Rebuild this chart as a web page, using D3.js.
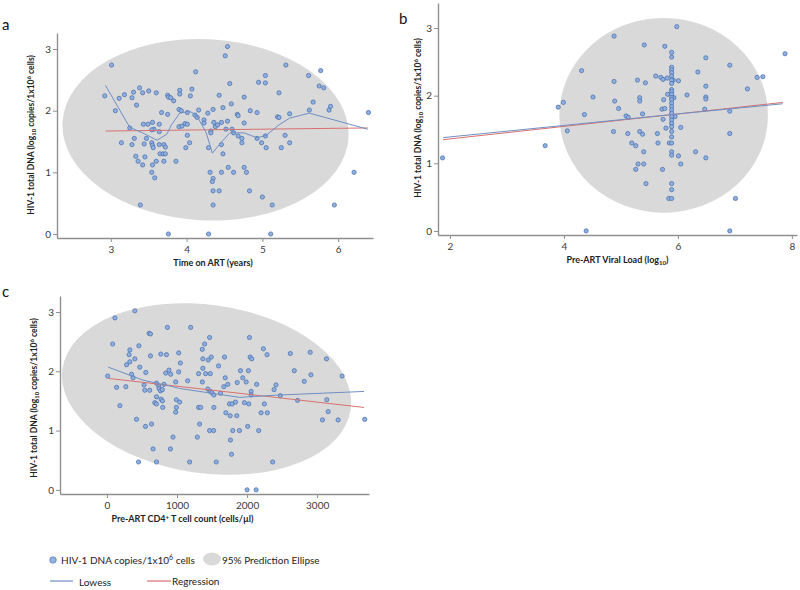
<!DOCTYPE html>
<html>
<head>
<meta charset="utf-8">
<script src="https://cdn.jsdelivr.net/npm/d3@7"></script>
<style>
  body { margin: 0; background: #fff; }
  svg { display: block; font-family: Lato, "Liberation Sans", sans-serif; }
</style>
</head>
<body>
<svg id="chart" width="800" height="590"></svg>
<script>
// ---- data ----

// panel a: time on ART (years) vs HIV-1 total DNA
var timePoints = [
  [3.01,2.74],[2.92,2.24],[3.06,2.00],[3.11,2.20],[3.18,2.26],[3.28,2.21],[3.30,2.30],[3.34,2.09],
  [3.38,2.37],[3.42,2.29],[3.50,2.32],[3.60,2.29],[3.75,2.25],[3.76,2.22],[3.79,2.21],[3.83,2.16],
  [3.91,2.33],[3.91,2.27],[4.07,2.35],[4.05,2.24],[4.12,2.63],[3.90,2.02],[3.93,2.00],[4.01,1.97],
  [4.11,1.93],[4.16,2.01],[3.67,1.97],[3.75,1.94],[3.55,1.81],[3.43,1.78],[3.49,1.78],[3.25,1.72],
  [3.57,1.70],[3.54,1.69],[3.64,1.78],[3.90,1.74],[3.94,1.75],[3.98,1.79],[4.01,1.78],[4.01,1.60],
  [3.31,1.55],[3.47,1.55],[3.14,1.48],[3.28,1.45],[3.44,1.46],[3.54,1.48],[3.55,1.44],[3.56,1.40],
  [3.64,1.45],[3.70,1.45],[3.72,1.41],[3.33,1.26],[3.36,1.18],[3.42,1.12],[3.45,1.25],[3.60,1.18],
  [3.65,1.30],[3.69,1.30],[3.72,1.30],[3.70,1.18],[3.86,1.18],[3.55,1.12],[3.54,1.00],[3.58,0.91],
  [3.99,1.40],[4.04,1.48],[3.39,0.47],[3.76,0.00],[3.64,1.66],
  [4.54,3.04],[4.51,2.89],[5.31,2.74],[5.77,2.65],[5.04,2.57],[4.95,2.46],[5.04,2.45],[5.61,2.57],
  [5.75,2.40],[5.81,2.37],[4.57,2.44],[5.22,2.29],[4.43,2.25],[4.76,2.22],[5.67,2.14],[5.90,2.07],
  [5.88,2.01],[5.62,2.01],[6.40,1.97],[4.59,2.11],[4.48,2.05],[4.35,2.02],[4.84,2.00],[4.93,1.97],
  [5.36,1.95],[5.20,1.90],[5.22,1.89],[4.14,1.89],[4.28,1.96],[4.67,1.94],[4.68,1.92],[4.23,1.85],
  [4.23,1.80],[4.36,1.81],[4.46,1.81],[4.54,1.83],[4.76,1.80],[4.38,1.74],[4.41,1.77],[4.52,1.70],
  [4.60,1.70],[4.32,1.67],[4.32,1.64],[4.62,1.64],[4.68,1.59],[4.73,1.55],[4.93,1.55],[5.04,1.59],
  [5.30,1.60],[4.29,1.40],[4.46,1.45],[4.48,1.30],[4.73,1.48],[4.99,1.48],[5.05,1.40],[5.25,1.40],
  [5.36,1.48],[4.31,1.00],[4.46,1.00],[4.55,1.08],[4.62,1.00],[4.76,1.08],[4.79,1.00],[4.35,0.90],
  [4.34,0.85],[4.35,0.70],[4.43,0.70],[4.83,0.70],[5.00,0.60],[4.35,0.47],[5.13,0.47],[5.95,0.47],
  [6.21,1.00],[4.29,0.00],[5.11,0.00]
];
var timeLowess = [
  [2.93,2.41],[3.25,1.73],[3.42,1.64],[3.61,1.52],[3.74,1.62],[3.80,1.77],[3.91,1.96],[4.04,1.99],
  [4.13,1.93],[4.26,1.64],[4.34,1.31],[4.46,1.49],[4.57,1.64],[4.76,1.64],[4.93,1.56],[5.05,1.60],
  [5.22,1.77],[5.36,1.88],[5.62,1.96],[6.39,1.70]
];
var timeRegression = [[2.93,1.67],[6.39,1.72]];
var timeEllipse = { cx: 4.25, cy: 1.69, rx: 1.89, ry: 1.47, angle: 3 };

// panel b: pre-ART viral load (log10) vs HIV-1 total DNA
var vlPoints = [
  [4.31,2.37],[4.51,1.98],[3.90,1.83],[3.99,1.90],[4.36,1.72],[4.06,1.48],[1.87,1.08],[3.67,1.26],
  [4.39,0.00],[4.88,2.88],[5.98,3.02],[5.41,2.75],[5.77,2.73],[6.49,2.56],[6.91,2.45],[7.88,2.62],
  [6.35,2.35],[7.39,2.27],[7.49,2.28],[7.22,2.10],[6.49,2.14],[4.88,2.21],[5.29,2.23],[5.43,2.19],
  [5.61,2.29],[5.70,2.27],[5.74,2.24],[5.81,2.26],[5.92,2.23],[6.01,2.22],[4.89,1.92],[4.96,1.81],
  [5.33,1.97],[5.33,1.92],[5.75,1.94],[5.82,2.02],[5.93,1.97],[6.16,2.01],[6.49,1.98],[6.49,1.95],
  [6.47,1.80],[6.91,1.77],[5.72,1.80],[5.77,1.81],[5.38,1.73],[5.09,1.70],[5.13,1.68],[5.95,1.69],
  [5.74,1.65],[5.79,1.52],[6.05,1.53],[4.87,1.47],[5.12,1.44],[5.33,1.47],[5.38,1.43],[5.64,1.44],
  [6.91,1.44],[5.19,1.30],[5.26,1.26],[5.65,1.30],[5.85,1.30],[5.40,1.17],[6.01,1.11],[6.31,1.17],
  [6.49,1.08],[5.30,0.99],[5.40,0.99],[6.05,0.99],[5.26,0.91],[5.73,0.91],[5.44,0.70],[5.84,0.48],
  [7.01,0.48],[6.91,0.00],
  // the column of patients at the assay upper value
  [5.89,2.64],[5.89,2.57],[5.89,2.42],[5.89,2.38],[5.89,2.34],[5.89,2.29],[5.89,2.23],[5.89,2.18],
  [5.89,2.09],[5.89,2.06],[5.89,2.02],[5.89,1.97],[5.89,1.94],[5.89,1.89],[5.89,1.84],[5.89,1.79],
  [5.89,1.74],[5.89,1.69],[5.89,1.64],[5.89,1.59],[5.89,1.54],[5.89,1.47],[5.89,1.39],[5.89,1.30],
  [5.89,1.17],[5.89,1.12],[5.89,0.70],[5.89,0.61],[5.89,0.48]
];
var vlLowess = [[1.88,1.38],[4.0,1.56],[6.0,1.73],[7.84,1.88]];
var vlRegression = [[1.88,1.35],[7.84,1.90]];
var vlEllipse = { cx: 5.75, cy: 1.71, rx: 1.83, ry: 1.44, angle: 0 };

// panel c: pre-ART CD4+ T cell count vs HIV-1 total DNA
var cd4Points = [
  [114,2.90],[398,3.02],[81,2.46],[602,2.64],[621,2.63],[863,2.74],[1195,2.74],[455,2.43],
  [327,2.36],[317,2.28],[398,2.21],[327,2.16],[280,2.11],[621,2.26],[768,2.29],[849,2.28],
  [1024,2.31],[1048,2.14],[469,2.07],[555,1.98],[839,1.97],[886,2.02],[910,1.95],[1024,1.99],
  [1308,1.96],[10,1.92],[351,1.95],[374,1.89],[1152,1.84],[138,1.73],[270,1.74],[530,1.77],
  [707,1.80],[739,1.75],[815,1.78],[981,1.82],[540,1.68],[611,1.68],[744,1.71],[764,1.67],
  [792,1.69],[707,1.57],[772,1.53],[792,1.50],[683,1.47],[707,1.45],[991,1.52],[1038,1.48],
  [796,1.39],[991,1.39],[981,1.31],[185,1.42],[422,1.19],[1308,1.39],
  [1465,2.57],[1394,2.46],[1361,2.37],[1369,2.21],[1446,2.19],[1489,2.24],[1369,2.05],[1408,1.96],
  [1475,1.96],[1361,1.82],[1593,2.09],[1678,2.24],[1688,1.89],[1668,1.74],[1725,1.78],[1906,2.01],
  [1938,1.89],[2019,2.01],[1987,1.82],[1859,1.81],[2034,2.57],[2043,2.24],[2066,2.21],[2233,2.38],
  [2285,2.28],[2137,1.78],[2058,1.66],[2058,1.60],[2413,1.77],[2385,1.69],[2474,1.59],[2617,2.30],
  [2901,2.32],[2674,2.01],[2816,1.83],[2911,1.94],[3133,2.21],[3356,1.92],[1440,1.70],[1475,1.66],
  [1497,1.64],[1526,1.60],[1621,1.63],[1337,1.39],[1526,1.39],[1749,1.45],[1787,1.45],[1834,1.48],
  [1962,1.47],[2024,1.45],[2247,1.45],[1697,1.30],[1759,1.25],[1853,1.25],[2200,1.30],[2289,1.30],
  [2720,1.51],[3138,1.52],[3157,1.32],[3076,1.18],[3299,1.18],[3679,1.19],
  [550,1.07],[636,1.11],[1322,1.11],[2009,1.07],[1465,1.00],[1522,1.00],[1796,1.00],[1891,1.00],
  [2166,1.00],[943,0.89],[1290,0.89],[1763,0.84],[658,0.69],[906,0.69],[1778,0.60],[451,0.47],
  [707,0.47],[1180,0.47],[1560,0.47],[2365,0.47],[2000,0.00],[2129,0.00]
];
var cd4Lowess = [[18,2.07],[516,1.85],[940,1.74],[1038,1.71],[1891,1.56],[2460,1.60],[3670,1.66]];
var cd4Regression = [[18,1.88],[3670,1.39]];
var cd4Ellipse = { cx: 1422, cy: 1.70, rx: 2077, ry: 1.42, angle: 8 };

var timeTicks = [3, 4, 5, 6];
var vlTicks = [2, 4, 6, 8];
var cd4Ticks = [0, 1000, 2000, 3000];
var dnaTicks = [0, 1, 2, 3];

// ---- styles ----
var dotFill = "#8fb0e0", dotStroke = "#4d72ad";
var lowessColor = "#6f8fc4", regressionColor = "#d8716f";
var ellipseColor = "#d9d9d9";
var axisColor = "#8f8f8f", tickTextColor = "#3a3a3a";

var svg = d3.select("#chart");

function drawPanel(p) {
  var x = d3.scaleLinear().domain(p.xDomain).range([p.left, p.right]);
  var y = d3.scaleLinear().domain(p.yDomain).range([p.bottom, p.top]);
  var g = svg.append("g");

  // prediction ellipse
  var e = p.ellipse;
  var ecx = x(e.cx), ecy = y(e.cy);
  g.append("ellipse")
      .attr("cx", ecx).attr("cy", ecy)
      .attr("rx", x(e.cx + e.rx) - ecx)
      .attr("ry", ecy - y(e.cy + e.ry))
      .attr("transform", "rotate(" + e.angle + "," + ecx + "," + ecy + ")")
      .attr("fill", ellipseColor);

  var line = d3.line()
      .x(function(d) { return x(d[0]); })
      .y(function(d) { return y(d[1]); });

  // axes
  var xAxis = d3.axisBottom(x).tickValues(p.xTicks).tickSize(4).tickSizeOuter(0).tickFormat(d3.format("d"));
  var yAxis = d3.axisLeft(y).tickValues(dnaTicks).tickSize(4).tickSizeOuter(0).tickFormat(d3.format("d"));

  var gx = g.append("g").attr("transform", "translate(0," + p.bottom + ")").call(xAxis);
  var gy = g.append("g").attr("transform", "translate(" + p.left + ",0)").call(yAxis);
  [gx, gy].forEach(function(ax) {
    ax.select(".domain").attr("stroke", axisColor).attr("stroke-width", 1.4);
    ax.selectAll(".tick line").attr("stroke", axisColor);
    ax.selectAll(".tick text").attr("fill", tickTextColor)
      .attr("font-family", "Lato, sans-serif").attr("font-size", 10);
  });
  gx.selectAll(".tick text").attr("y", 8);
  gy.selectAll(".tick text").attr("x", -6);

  // points
  g.append("g").selectAll("circle")
    .data(p.points)
    .enter().append("circle")
      .attr("cx", function(d) { return x(d[0]); })
      .attr("cy", function(d) { return y(d[1]); })
      .attr("r", 2.1)
      .attr("fill", dotFill)
      .attr("stroke", dotStroke)
      .attr("stroke-width", 0.8);

  // fits
  g.append("path").datum(p.regression)
      .attr("fill", "none").attr("stroke", regressionColor).attr("stroke-width", 1)
      .attr("d", line);
  g.append("path").datum(p.lowess)
      .attr("fill", "none").attr("stroke", lowessColor).attr("stroke-width", 1)
      .attr("stroke-linejoin", "round")
      .attr("d", line);

  // x title
  var xt = g.append("text")
      .attr("x", (p.left + p.right) / 2 + p.xTitleShift)
      .attr("y", p.bottom + 28)
      .attr("text-anchor", "middle")
      .attr("font-size", 9).attr("font-weight", "bold").attr("fill", "#222");
  p.xTitle(xt);

  // y title
  var yt = g.append("text")
      .attr("transform", "translate(" + p.yTitleX + "," + p.yTitleY + ") rotate(-90)")
      .attr("text-anchor", "middle")
      .attr("font-size", 8.5).attr("font-weight", "bold").attr("fill", "#222");
  yt.append("tspan").text("HIV-1 total DNA (log");
  yt.append("tspan").attr("font-size", 6).attr("dy", 2).text("10");
  yt.append("tspan").attr("dy", -2).text(" copies/1x10");
  yt.append("tspan").attr("font-size", 6).attr("dy", -3).text("6");
  yt.append("tspan").attr("dy", 3).text(" cells)");

  // panel letter
  svg.append("text").attr("x", p.letterX).attr("y", p.letterY)
      .attr("font-size", 15).attr("fill", "#111").text(p.letter);
}

drawPanel({
  letter: "a", letterX: 2, letterY: 30,
  left: 57, right: 373, top: 33, bottom: 238,
  xDomain: [2.29, 6.46], yDomain: [-0.065, 3.26],
  xTicks: timeTicks, points: timePoints, lowess: timeLowess,
  regression: timeRegression, ellipse: timeEllipse,
  xTitleShift: -2, yTitleX: 34, yTitleY: 135,
  xTitle: function(t) { t.text("Time on ART (years)"); }
});

drawPanel({
  letter: "b", letterX: 399, letterY: 24,
  left: 438, right: 797, top: 3, bottom: 235,
  xDomain: [1.79, 8.09], yDomain: [-0.06, 3.37],
  xTicks: vlTicks, points: vlPoints, lowess: vlLowess,
  regression: vlRegression, ellipse: vlEllipse,
  xTitleShift: 0, yTitleX: 421, yTitleY: 118,
  xTitle: function(t) {
    t.append("tspan").text("Pre-ART Viral Load (log");
    t.append("tspan").attr("font-size", 6).attr("dy", 2).text("10");
    t.append("tspan").attr("dy", -2).text(")");
  }
});

drawPanel({
  letter: "c", letterX: 2, letterY: 297,
  left: 60, right: 369, top: 296, bottom: 494,
  xDomain: [-670, 3740], yDomain: [-0.07, 3.27],
  xTicks: cd4Ticks, points: cd4Points, lowess: cd4Lowess,
  regression: cd4Regression, ellipse: cd4Ellipse,
  xTitleShift: -32, yTitleX: 37, yTitleY: 398,
  xTitle: function(t) {
    t.append("tspan").text("Pre-ART CD4");
    t.append("tspan").attr("font-size", 6).attr("dy", -3).text("+");
    t.append("tspan").attr("dy", 3).text(" T cell count (cells/\u00b5l)");
  }
});

// ---- legend ----
var legend = svg.append("g").attr("font-size", 10).attr("fill", "#222");
legend.append("circle").attr("cx", 53).attr("cy", 560).attr("r", 3.3)
    .attr("fill", dotFill).attr("stroke", dotStroke).attr("stroke-width", 0.6);
var lt = legend.append("text").attr("x", 61).attr("y", 564);
lt.append("tspan").text("HIV-1 DNA copies/1x10");
lt.append("tspan").attr("font-size", 7).attr("dy", -4).text("6");
lt.append("tspan").attr("dy", 4).text("  cells");
legend.append("ellipse").attr("cx", 212).attr("cy", 559).attr("rx", 9).attr("ry", 6.5)
    .attr("fill", ellipseColor);
legend.append("text").attr("x", 222).attr("y", 564).text("95% Prediction Ellipse");

legend.append("line").attr("x1", 50).attr("x2", 73).attr("y1", 581).attr("y2", 581)
    .attr("stroke", lowessColor).attr("stroke-width", 1.2);
legend.append("text").attr("x", 79).attr("y", 586).text("Lowess");
legend.append("line").attr("x1", 147).attr("x2", 171).attr("y1", 581).attr("y2", 581)
    .attr("stroke", regressionColor).attr("stroke-width", 1.2);
legend.append("text").attr("x", 172).attr("y", 585).text("Regression");
</script>
</body>
</html>
